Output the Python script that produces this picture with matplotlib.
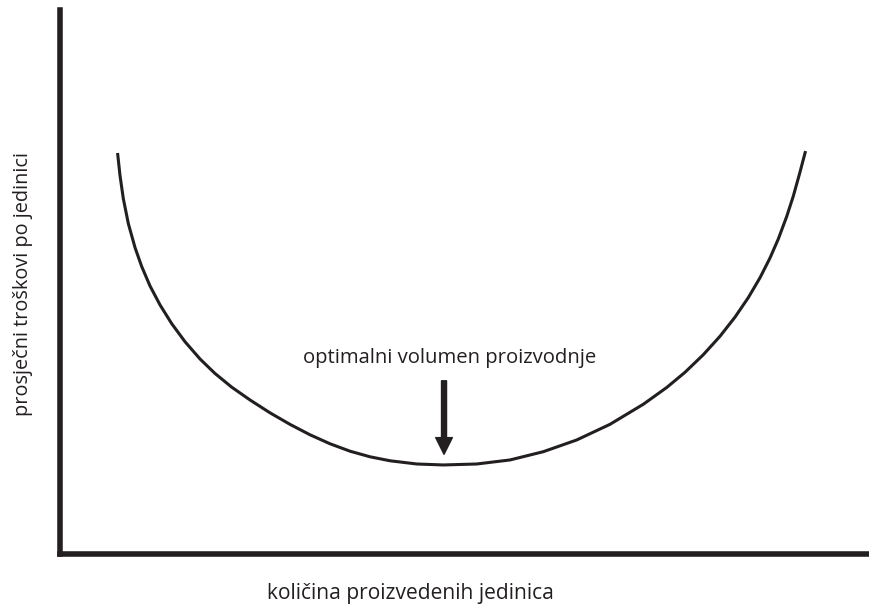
import matplotlib
matplotlib.use('Agg')
import matplotlib.pyplot as plt

plt.rcParams['font.family'] = ['Open Sans', 'DejaVu Sans']

# U-shaped average cost curve (axes units 0-100)
quantity = [7.17, 7.47, 7.88, 8.50, 9.33, 10.15, 11.18, 12.42, 13.86, 15.50,
            17.36, 19.21, 21.27, 23.53, 26.00, 28.48, 30.95, 33.42, 35.89,
            38.36, 40.83, 44.13, 47.41, 51.54, 55.65, 59.77, 63.89, 68.01,
            72.12, 75.01, 77.27, 79.53, 81.59, 83.45, 85.09, 86.54, 87.77,
            88.80, 89.83, 90.65, 91.48, 92.16]
avg_cost = [73.74, 69.61, 65.36, 60.77, 56.35, 52.89, 49.31, 45.82, 42.39, 39.08,
            35.90, 33.24, 30.73, 28.38, 26.02, 23.89, 21.98, 20.33, 18.97,
            17.94, 17.21, 16.62, 16.44, 16.62, 17.36, 18.88, 21.03, 23.91,
            27.59, 30.67, 33.46, 36.69, 40.07, 43.60, 47.18, 50.84, 54.45,
            57.96, 62.06, 65.82, 70.25, 74.09]

optimum_x = 47.5
optimum_y = 18.4
arrow_top = 31.9

ink = '#231f20'

fig = plt.figure(figsize=(8.69, 6.05), dpi=100)
ax = fig.add_axes([0.0685, 0.0835, 0.9315, 0.9])

ax.plot(quantity, avg_cost, color=ink, lw=2.2, solid_capstyle='butt',
        solid_joinstyle='round')

# arrow pointing at the minimum
ax.annotate('', xy=(optimum_x, optimum_y), xytext=(optimum_x, arrow_top),
            arrowprops=dict(facecolor=ink, edgecolor=ink, width=3.6,
                            headwidth=12, headlength=12, shrink=0))
ax.text(48.2, 36.0, 'optimalni volumen proizvodnje', ha='center', va='center',
        fontsize=14.6, color=ink)

ax.set_xlim(0, 100)
ax.set_ylim(0, 100)
for side in ['top', 'right']:
    ax.spines[side].set_visible(False)
for side in ['left', 'bottom']:
    ax.spines[side].set_linewidth(4)
    ax.spines[side].set_color(ink)
    ax.spines[side].set_capstyle('projecting')
ax.set_xticks([])
ax.set_yticks([])

fig.text(410.5 / 869, 1 - 594 / 605, 'količina proizvedenih jedinica',
         ha='center', va='center', fontsize=15.1, color=ink)
fig.text(23 / 869, 1 - 284 / 605, 'prosječni troškovi po jedinici',
         ha='center', va='center', rotation=90, fontsize=14.3, color=ink)

fig.savefig('out.png', dpi=100)
